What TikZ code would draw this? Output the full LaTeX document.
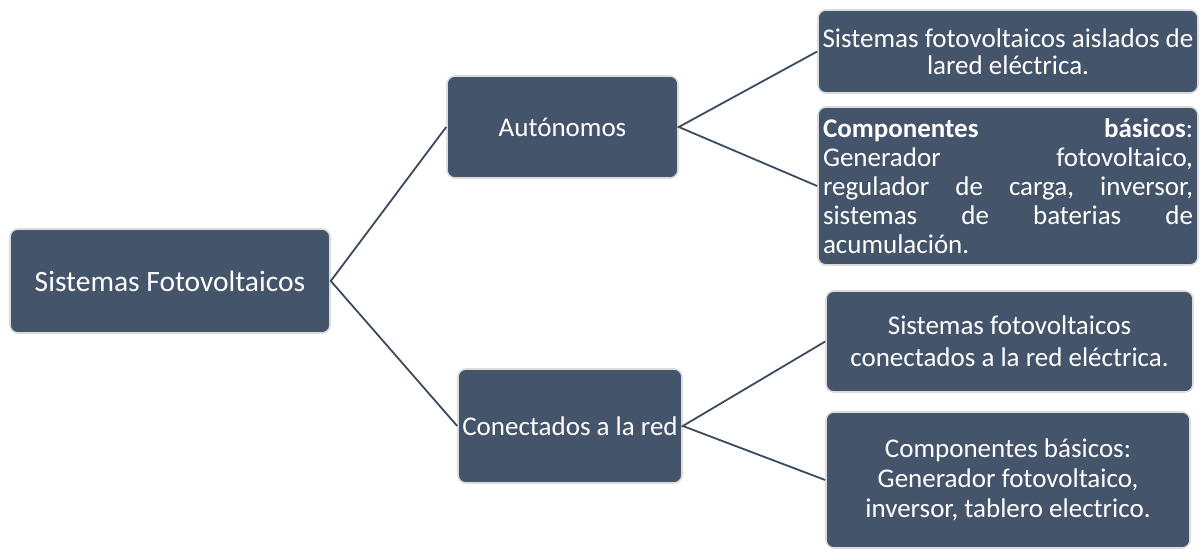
\documentclass[tikz,border=0pt]{standalone}
\usepackage{fontspec}
\setmainfont{Carlito}
\definecolor{boxfill}{HTML}{44546A}
\definecolor{boxrim}{HTML}{DCDCDC}
\definecolor{linkcol}{HTML}{3A4A5F}
\begin{document}
\begin{tikzpicture}[x=1pt,y=-1pt,
  card/.style={draw=boxrim, line width=1.6pt, fill=boxfill, rounded corners=8pt,
    text=white, inner sep=0pt, align=center, font=\fontsize{27}{31}\selectfont},
  link/.style={draw=linkcol, line width=1.8pt}]
  \useasboundingbox (0,0) rectangle (1200,552);

  % first level
  \node[card, minimum width=320pt, minimum height=104pt,
        font=\fontsize{29.5}{33}\selectfont] (root) at (170,281) {Sistemas Fotovoltaicos};

  % second level
  \node[card, minimum width=231pt, minimum height=102pt] (auto) at (562.5,127) {Autónomos};
  \node[card, minimum width=224pt, minimum height=114pt] (red) at (570,426) {Conectados a la red};

  % third level, stand-alone branch
  \node[card, minimum width=380pt, minimum height=83pt,
        font=\fontsize{27}{27}\selectfont] (aisl) at (1008,51.5)
        {Sistemas fotovoltaicos aislados de\\lared eléctrica.};
  \node[card, minimum width=380pt, minimum height=158pt, text width=370pt, align=left,
        font=\fontsize{27}{29}\selectfont] (compa) at (1008,186)
        {\textbf{Componentes}\hfill\textbf{básicos}:\\
         Generador\hfill fotovoltaico,\\
         regulador\hfill de\hfill carga,\hfill inversor,\\
         sistemas\hfill de\hfill baterias\hfill de\\
         acumulación.};

  % third level, grid-tied branch
  \node[card, minimum width=367pt, minimum height=101pt,
        font=\fontsize{27}{32}\selectfont] (conx) at (1009.5,341.5)
        {Sistemas fotovoltaicos\\conectados a la red eléctrica.};
  \node[card, minimum width=364pt, minimum height=136pt,
        font=\fontsize{27}{30}\selectfont] (compb) at (1008,480)
        {Componentes básicos:\\Generador fotovoltaico,\\inversor, tablero electrico.};

  % connectors
  \draw[link] (auto.west) -- (root.east) -- (red.west);
  \draw[link] (aisl.west) -- (auto.east) -- (compa.west);
  \draw[link] (conx.west) -- (red.east) -- (compb.west);
\end{tikzpicture}
\end{document}
